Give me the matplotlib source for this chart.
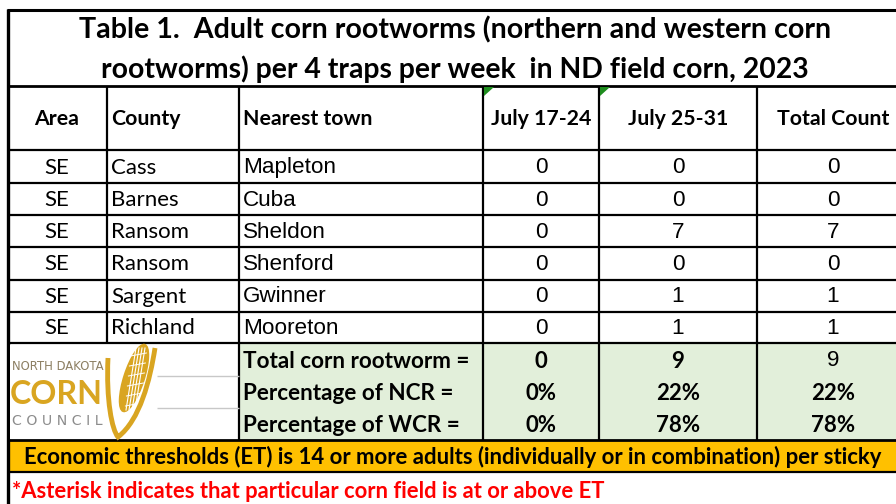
import matplotlib
matplotlib.use('Agg')
import matplotlib.pyplot as plt
from matplotlib.patches import Rectangle, Polygon, Ellipse, PathPatch
from matplotlib.path import Path

# table contents
headers = ['Area', 'County', 'Nearest town', 'July 17-24', 'July 25-31', 'Total Count']
areas = ['SE', 'SE', 'SE', 'SE', 'SE', 'SE']
counties = ['Cass', 'Barnes', 'Ransom', 'Ransom', 'Sargent', 'Richland']
towns = ['Mapleton', 'Cuba', 'Sheldon', 'Shenford', 'Gwinner', 'Mooreton']
week1 = [0, 0, 0, 0, 0, 0]
week2 = [0, 0, 7, 0, 1, 1]
total = [0, 0, 7, 0, 1, 1]
summary_labels = ['Total corn rootworm =', 'Percentage of NCR =', 'Percentage of WCR =']
summary_week1 = ['0', '0%', '0%']
summary_week2 = ['9', '22%', '78%']
summary_total = ['9', '22%', '78%']
title1 = 'Table 1.  Adult corn rootworms (northern and western corn'
title2 = 'rootworms) per 4 traps per week  in ND field corn, 2023'
et_note = 'Economic thresholds (ET) is 14 or more adults (individually or in combination) per sticky'
asterisk_note = '*Asterisk indicates that particular corn field is at or above ET'

CAL = 'Lato'
ARIAL = 'Liberation Sans'
GREEN = '#E2EFDA'
ORANGE = '#FFC000'
GOLD = '#D9A521'

col_edges = [8, 107, 239, 483, 599, 757, 910]
row_edges = [150, 183, 215, 247, 280, 312, 343]
sum_y = [361, 393, 425]

fig = plt.figure(figsize=(8.96, 5.04), dpi=100)
ax = fig.add_axes([0, 0, 1, 1])
ax.set_xlim(0, 896)
ax.set_ylim(504, 0)
ax.axis('off')
renderer = fig.canvas.get_renderer()


def fit(t, width):
    w = t.get_window_extent(renderer).width
    t.set_fontsize(t.get_fontsize() * width / w)
    return t


def hline(y, x0, x1, lw=1.6, color='black'):
    ax.plot([x0, x1], [y, y], color=color, lw=lw, solid_capstyle='butt', zorder=5)


def vline(x, y0, y1, lw=1.6, color='black'):
    ax.plot([x, x], [y0, y1], color=color, lw=lw, solid_capstyle='butt', zorder=5)


# backgrounds
ax.add_patch(Rectangle((239, 343), 680, 97, fc=GREEN, ec='none', zorder=1))
ax.add_patch(Rectangle((8, 440), 900, 32, fc=ORANGE, ec='none', zorder=1))

# title
fit(ax.text(455, 30, title1, ha='center', va='center', fontsize=18,
            fontweight='bold', family=CAL), 752)
fit(ax.text(455, 69, title2, ha='center', va='center', fontsize=18,
            fontweight='bold', family=CAL), 710)

# header row
hx = [57, 111, 243, 541, 678, 833]
hal = ['center', 'left', 'left', 'center', 'center', 'center']
for x, a, h in zip(hx, hal, headers):
    ax.text(x, 119, h, ha=a, va='center', fontsize=15.3, fontweight='bold', family=CAL)

# comment markers
for x in [483, 599]:
    ax.add_patch(Polygon([[x + 1, 87], [x + 11, 87], [x + 1, 96]], closed=True,
                         fc='#1E8C1E', ec='none', zorder=6))

# data rows
for i in range(len(areas)):
    y = (row_edges[i] + row_edges[i + 1]) / 2 + 1
    ax.text(57, y, areas[i], ha='center', va='center', fontsize=16, family=CAL)
    ax.text(111, y, counties[i], ha='left', va='center', fontsize=16, family=CAL)
    ax.text(243, y, towns[i], ha='left', va='center', fontsize=16.2, family=ARIAL)
    ax.text(541, y, str(week1[i]), ha='center', va='center', fontsize=16.2, family=ARIAL)
    ax.text(678, y, str(week2[i]), ha='center', va='center', fontsize=16.2, family=ARIAL)
    ax.text(833, y, str(total[i]), ha='center', va='center', fontsize=16.2, family=ARIAL)

# summary rows
for i in range(len(summary_labels)):
    y = sum_y[i]
    ax.text(243, y, summary_labels[i], ha='left', va='center', fontsize=16.2,
            fontweight='bold', family=CAL)
    ax.text(541, y, summary_week1[i], ha='center', va='center', fontsize=16,
            fontweight='bold', family=CAL)
    ax.text(678, y, summary_week2[i], ha='center', va='center', fontsize=16,
            fontweight='bold', family=CAL)
    if i == 0:
        ax.text(833, y, summary_total[i], ha='center', va='center', fontsize=16.2,
                family=ARIAL)
    else:
        ax.text(833, y, summary_total[i], ha='center', va='center', fontsize=16,
                fontweight='bold', family=CAL)

# notes
fit(ax.text(24, 457, et_note, ha='left', va='center', fontsize=14,
            fontweight='bold', family=CAL), 864)
fit(ax.text(12, 492, asterisk_note, ha='left', va='center', fontsize=14,
            fontweight='bold', family=CAL, color='#FF0000'), 595)

# grid lines
hline(10, 7, 896, lw=2.2)
hline(86, 7, 896, lw=2)
for y in row_edges:
    hline(y, 7, 896)
hline(440, 7, 896, lw=2)
hline(472, 7, 896, lw=1.6)
vline(8, 9, 504, lw=2.4)
for x in col_edges[1:6]:
    bottom = 343 if x == 107 else 440
    vline(x, 86, bottom)
for y in [376, 408]:
    hline(y, 157, 239, lw=1, color='#C8C8C8')

# logo
ax.add_patch(Rectangle((10, 345), 147, 94, fc='white', ec='none', zorder=6))
fit(ax.text(12, 367, 'NORTH DAKOTA', ha='left', va='center', fontsize=7,
            color='#8C7E62', family='DejaVu Sans', zorder=7), 92)
fit(ax.text(10, 395, 'CORN', ha='left', va='center', fontsize=24,
            fontweight='bold', color=GOLD, family=CAL, zorder=7), 93)
fit(ax.text(12, 421, 'C O U N C I L', ha='left', va='center', fontsize=9,
            color='#8C8C8C', family='DejaVu Sans', zorder=7), 91)
ax.add_patch(Ellipse((134, 378), 20, 70, angle=18, fc=GOLD, ec=GOLD,
                     lw=1.2, zorder=7))
for k in range(4):
    ax.plot([126 + k * 3, 136 + k * 3], [410, 348],
            color='white', lw=0.8, zorder=8)
for k in range(6):
    yy = 356 + k * 10
    ax.plot([125 + (410 - yy) * 0.1, 141 + (410 - yy) * 0.1], [yy, yy - 3],
            color='white', lw=0.7, zorder=8)
husk = Path([(108, 358), (106, 400), (112, 430), (118, 437),
             (140, 420), (150, 380), (155, 348)],
            [Path.MOVETO, Path.CURVE4, Path.CURVE4, Path.CURVE4,
             Path.CURVE4, Path.CURVE4, Path.CURVE4])
ax.add_patch(PathPatch(husk, fc='none', ec=GOLD, lw=3.5, zorder=8))

fig.savefig('out.png', dpi=100)
